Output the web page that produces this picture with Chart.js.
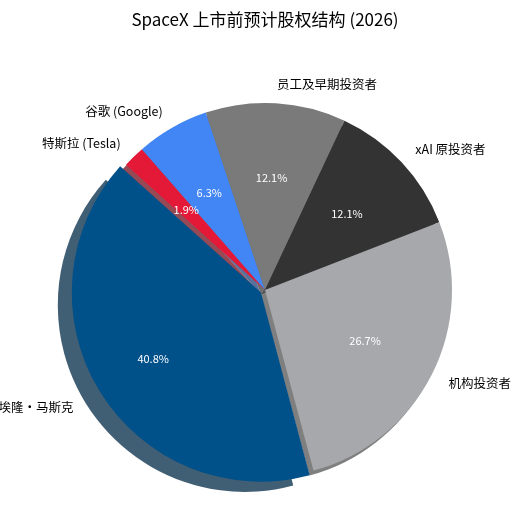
<!DOCTYPE html>
<html><head><meta charset="utf-8">
<script src="https://cdn.jsdelivr.net/npm/chart.js@4"></script>
<style>html,body{margin:0;padding:0;background:#fff}#w{width:530px;height:526px}</style>
</head><body><div id="w"><canvas id="c"></canvas></div>
<script>
const labels = ['特斯拉 (Tesla)','谷歌 (Google)','员工及早期投资者','xAI 原投资者','机构投资者','埃隆·马斯克'];
const values = [1.9, 6.3, 12.1, 12.1, 26.7, 40.8];
const colors = ['#E31937','#4285F4','#7A7A7A','#333333','#A7A8AC','#00508A'];
const offsets = [0,0,0,0,0,19];
const FONT = '"Noto Sans CJK SC", "Noto Sans", sans-serif';

function arcGeom(a){
  const p = a.getProps(['x','y','startAngle','endAngle','outerRadius']);
  const off = a.options.offset || 0;
  const mid = (p.startAngle+p.endAngle)/2;
  return {x:p.x+Math.cos(mid)*off, y:p.y+Math.sin(mid)*off, s:p.startAngle, e:p.endAngle, r:p.outerRadius, mid};
}
function shade(hex){
  const n=parseInt(hex.slice(1),16);
  const f=c=>Math.round(c*0.5+0);
  return `rgba(${f(n>>16)},${f((n>>8)&255)},${f(n&255)},0.75)`;
}
const piePlugin = {
  id:'piePlugin',
  beforeDatasetsDraw(chart){
    const ctx=chart.ctx; const meta=chart.getDatasetMeta(0);
    ctx.save();
    meta.data.forEach((a,i)=>{
      const g=arcGeom(a);
      ctx.beginPath(); ctx.moveTo(g.x-4,g.y+5);
      ctx.arc(g.x-4,g.y+5,g.r,g.s,g.e); ctx.closePath();
      ctx.fillStyle=shade(colors[i]); ctx.fill();
    });
    ctx.restore();
  },
  afterDatasetsDraw(chart){
    const ctx=chart.ctx; const meta=chart.getDatasetMeta(0);
    ctx.save();
    ctx.textBaseline='middle';
    meta.data.forEach((a,i)=>{
      const g=arcGeom(a);
      ctx.font='11px '+FONT; ctx.fillStyle='#fff'; ctx.textAlign='center';
      ctx.fillText(values[i].toFixed(1)+'%', g.x+Math.cos(g.mid)*g.r*0.6, g.y+Math.sin(g.mid)*g.r*0.6);
      const lx=g.x+Math.cos(g.mid)*g.r*1.1, ly=g.y+Math.sin(g.mid)*g.r*1.1;
      ctx.font='12.5px '+FONT; ctx.fillStyle='#000';
      ctx.textAlign = Math.cos(g.mid)>0 ? 'left':'right';
      ctx.fillText(labels[i], lx, ly);
    });
    ctx.font='17px '+FONT; ctx.textAlign='center'; ctx.fillStyle='#000';
    ctx.fillText('SpaceX 上市前预计股权结构 (2026)', 265, 20);
    ctx.restore();
  }
};
new Chart(document.getElementById('c'),{
  type:'pie',
  data:{labels, datasets:[{data:values, backgroundColor:colors, borderWidth:0, offset:offsets, hoverOffset:0}]},
  options:{
    responsive:true, maintainAspectRatio:false, animation:false,
    rotation:-48, radius:187,
    layout:{padding:{top:80,bottom:26,left:0,right:0}},
    plugins:{legend:{display:false}, tooltip:{enabled:false}}
  },
  plugins:[piePlugin]
});
</script></body></html>
